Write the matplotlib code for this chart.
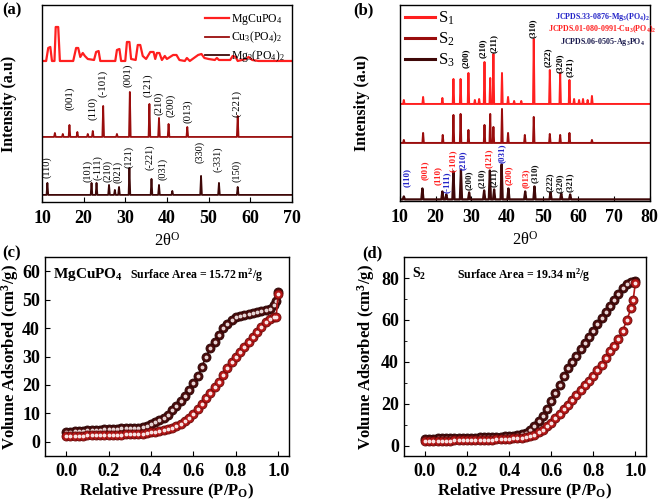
import matplotlib
matplotlib.use('Agg')
import matplotlib.pyplot as plt
from matplotlib.ticker import MultipleLocator

plt.rcParams['font.family'] = 'Liberation Serif'
plt.rcParams['mathtext.default'] = 'regular'

RED = '#ff1f1f'
MAROON = '#9a0d0d'
DARK = '#3f0808'
ADS = '#b51616'
DES = '#4a0c0c'

# ---------------- (a) XRD data (intensity in arbitrary units) ----------------
mgcu_x = [10, 11.0, 11.5, 12.0, 12.4, 13.0, 13.3, 13.9, 14.3, 17.5, 18.2, 18.7, 19.2, 19.8,
          20.3, 21.0, 22.5, 23.0, 23.6, 24.0, 27.6, 28.0, 28.6, 29.0, 30.0, 30.4, 31.0,
          31.4, 32.5, 33.0, 33.6, 34.2, 35.0, 36.0, 36.8, 37.2, 37.6, 38.2, 38.8, 39.5,
          40.0, 41.5, 42.3, 43.0, 44.3, 44.8, 45.5, 47.5, 48.3, 49.0, 50.0, 51.5, 52.0,
          52.5, 55.2, 55.8, 56.5, 57.0, 59.0, 59.6, 60.5, 62.0, 66.0, 70.0]
mgcu_y = [141, 141, 154, 155, 141, 141, 175, 175, 141, 141, 154, 154, 145, 149,
          146, 143, 142, 150, 151, 141, 141, 152, 153, 141, 141, 160, 160,
          143, 142, 157, 157, 146, 143, 150, 150, 143, 149, 149, 142, 146,
          143, 147, 147, 142, 141, 144, 141, 147, 148, 144, 143, 142, 144,
          142, 142, 146, 145, 141, 143, 145, 142, 141, 141, 141]

cu3_pos = [13.1, 15.0, 16.6, 18.5, 21.0, 22.2, 24.7, 28.0, 31.1, 35.8, 38.1, 40.4, 44.9, 57.0]
cu3_hgt = [4, 3, 12, 5, 3, 6, 31, 3, 45, 33, 19, 13, 10, 21]
cu3_base = 65

mg3_pos = [11.3, 21.9, 23.1, 26.1, 27.5, 28.5, 31.0, 36.3, 38.1, 41.3, 48.2, 52.5, 57.0]
mg3_hgt = [12, 12, 12, 10, 5, 8, 27, 16, 10, 4, 19, 12, 8]
mg3_base = 7

cu3_labels = ['(001)', '(110)', '(-101)', '(001)', '(121)', '(210)', '(200)', '(013)', '(-221)']
cu3_lab_x = [16.7, 22.2, 24.6, 30.6, 35.4, 38.1, 41.0, 45.0, 56.8]
cu3_lab_y = [92, 82, 105, 115, 105, 87, 85, 79, 85]

mg3_labels = ['(110)', '(101)', '(-111)', '(210)', '(021)', '(121)', '(-221)', '(031)',
              '(330)', '(-331)', '(150)']
mg3_lab_x = [11.2, 20.9, 23.4, 25.9, 28.3, 30.9, 35.9, 39.0, 47.9, 52.2, 56.8]
mg3_lab_y = [24, 20, 22, 20, 19, 34, 32, 22, 39, 30, 20]

# ---------------- (b) XRD data ----------------
s1_pos = [11.1, 16.5, 21.9, 25.0, 27.0, 29.2, 31.0, 32.2, 33.7, 35.3, 36.2, 38.6, 40.3,
          42.0, 44.0, 47.5, 52.0, 54.9, 57.5, 58.8, 60.2, 61.3, 62.6, 63.8]
s1_hgt = [4, 7, 6, 25, 25, 31, 4, 5, 42, 26, 50, 31, 7, 3, 3, 65, 34, 31, 24, 5, 4, 5, 4, 8]
s1_base = 97

s2_pos = [11.1, 16.5, 22.0, 25.0, 27.0, 29.2, 33.7, 35.3, 36.2, 38.6, 40.3, 45.0, 47.5,
          52.0, 54.9, 57.5, 63.8]
s2_hgt = [3, 10, 8, 28, 29, 13, 18, 29, 16, 34, 10, 8, 26, 9, 8, 10, 3]
s2_base = 58

s3_pos = [11.1, 16.3, 21.9, 23.0, 25.0, 27.1, 29.4, 33.6, 35.2, 36.4, 38.5, 40.4, 45.1,
          47.7, 52.2, 55.2, 57.7]
s3_hgt = [3, 11, 8, 5, 28, 30, 7, 9, 29, 10, 35, 11, 8, 13, 7, 6, 5]
s3_base = 1.5

s1_labels = ['(200)', '(210)', '(211)', '(310)', '(222)', '(320)', '(321)']
s1_lab_x = [28.5, 33.1, 36.2, 47.2, 51.4, 54.7, 57.7]
s1_lab_y = [133, 143, 148, 163, 134, 128, 124]

BLUE = '#2424c8'
LRED = '#ff2020'
BLK = '#111111'
s3_labels = ['(110)', '(001)', '(110)', '(-111)', '(-101)', '(210)', '(200)', '(210)', '(121)',
             '(211)', '(031)', '(200)', '(013)', '(310)', '(222)', '(320)', '(321)']
s3_lab_x = [11.8, 17.0, 20.5, 23.1, 24.9, 27.5, 29.4, 32.9, 35.0, 36.4, 38.5, 40.4, 45.3,
            47.7, 52.1, 54.7, 57.5]
s3_lab_y = [14, 21, 16, 8, 29, 31, 11, 13, 33, 14, 38, 16, 13, 18, 9, 8, 9]
s3_lab_c = [BLUE, LRED, LRED, BLUE, LRED, BLUE, BLK, BLK, LRED, BLK, BLUE, LRED, LRED,
            BLK, BLK, BLK, BLK]

# ---------------- (c), (d) BET isotherms ----------------
p_ads = [0.00, 0.02, 0.04, 0.06, 0.08, 0.10, 0.12, 0.14, 0.16, 0.18, 0.20, 0.22, 0.24,
         0.26, 0.28, 0.30, 0.32, 0.34, 0.36, 0.38, 0.40, 0.42, 0.44, 0.46, 0.48, 0.50,
         0.52, 0.54, 0.56, 0.58, 0.60, 0.62, 0.64, 0.66, 0.68, 0.70, 0.72, 0.74, 0.76,
         0.78, 0.80, 0.82, 0.84, 0.86, 0.88, 0.90, 0.92, 0.94, 0.96, 0.98, 0.99, 1.00]
p_des = [1.00, 0.99, 0.98, 0.96, 0.94, 0.92, 0.90, 0.88, 0.86, 0.84, 0.82, 0.80, 0.78,
         0.76, 0.74, 0.72, 0.70, 0.68, 0.66, 0.64, 0.62, 0.60, 0.58, 0.56, 0.54, 0.52,
         0.50, 0.48, 0.46, 0.44, 0.42, 0.40, 0.38, 0.36, 0.34, 0.32, 0.30, 0.28, 0.26,
         0.24, 0.22, 0.20, 0.18, 0.16, 0.14, 0.12, 0.10, 0.08, 0.06, 0.04, 0.02, 0.00]

c_ads = [1.9, 2.0, 2.1, 2.2, 2.2, 2.3, 2.3, 2.3, 2.4, 2.4, 2.4, 2.5, 2.5,
         2.5, 2.6, 2.6, 2.7, 2.8, 2.9, 3.1, 3.3, 3.5, 3.8, 4.1, 4.5, 5.0,
         5.6, 6.4, 7.3, 8.4, 9.8, 11.5, 13.4, 15.3, 17.2, 19.2, 21.2, 23.5, 25.8,
         28.0, 30.0, 31.7, 33.4, 35.2, 36.8, 38.5, 40.4, 42.1, 43.3, 43.8, 44.0, 52.0]
c_des = [52.7, 49.5, 48.3, 46.9, 46.4, 46.0, 45.7, 45.4, 45.1, 44.6, 44.3, 44.0, 43.0,
         41.6, 40.0, 37.5, 35.3, 33.0, 30.0, 26.5, 23.0, 20.7, 18.2, 16.2, 14.3, 12.6,
         11.2, 9.5, 8.5, 7.7, 6.9, 6.1, 5.4, 5.1, 5.0, 4.9, 4.8, 4.7, 4.7,
         4.6, 4.5, 4.5, 4.4, 4.3, 4.2, 4.1, 4.0, 3.9, 3.8, 3.7, 3.5, 3.3]

d_ads = [2.1, 2.2, 2.3, 2.3, 2.4, 2.4, 2.4, 2.5, 2.5, 2.5, 2.5, 2.6, 2.6,
         2.6, 2.7, 2.7, 2.8, 2.9, 3.0, 3.1, 3.2, 3.4, 3.5, 3.7, 4.0, 4.4,
         5.2, 6.3, 7.6, 9.2, 10.9, 13.0, 15.2, 17.5, 19.6, 21.8, 24.2, 26.6, 28.9,
         30.9, 33.4, 36.0, 38.6, 42.0, 45.2, 47.6, 51.0, 54.8, 60.0, 65.5, 69.5, 77.5]
d_des = [78.6, 78.3, 78.0, 77.2, 75.2, 72.4, 69.5, 66.6, 64.0, 61.0, 58.0, 54.8, 52.0,
         48.9, 45.9, 42.8, 40.0, 36.8, 33.0, 28.9, 25.0, 21.2, 17.5, 14.0, 11.6, 9.3,
         7.6, 6.1, 5.4, 5.0, 4.7, 4.5, 4.4, 4.3, 4.1, 4.0, 4.0, 3.9, 3.9,
         3.8, 3.8, 3.7, 3.7, 3.6, 3.6, 3.5, 3.5, 3.4, 3.4, 3.3, 3.3, 3.2]


def stick_trace(pos, hgt, base, lo, hi, w=0.2):
    # turn a list of peaks into a line profile on a flat baseline
    xs, ys = [lo], [base]
    for p, h in sorted(zip(pos, hgt)):
        xs += [p - w, p, p + w]
        ys += [base, base + h, base]
    xs.append(hi)
    ys.append(base)
    return xs, ys


def style_frame(ax):
    for s in ax.spines.values():
        s.set_linewidth(1.0)
    ax.tick_params(axis='both', which='both', direction='in', labelsize=13,
                   top=False, right=False)
    for lab in ax.get_xticklabels() + ax.get_yticklabels():
        lab.set_fontweight('bold')


fig = plt.figure(figsize=(6.61, 5.01), dpi=100)
ax_a = fig.add_axes([0.0635, 0.597, 0.378, 0.393])
ax_b = fig.add_axes([0.605, 0.599, 0.378, 0.391])
ax_c = fig.add_axes([0.068, 0.0898, 0.369, 0.397])
ax_d = fig.add_axes([0.611, 0.0898, 0.366, 0.397])

# ---- (a)
ax_a.plot(mgcu_x, mgcu_y, color=RED, lw=1.6, label='MgCuPO$_4$')
x, y = stick_trace(cu3_pos, cu3_hgt, cu3_base, 10, 70)
ax_a.plot(x, y, color=MAROON, lw=1.3, label='Cu$_3$(PO$_4$)$_2$')
x, y = stick_trace(mg3_pos, mg3_hgt, mg3_base, 10, 70)
ax_a.plot(x, y, color=DARK, lw=1.3, label='Mg$_3$(PO$_4$)$_2$')
for t, lx, ly in zip(cu3_labels, cu3_lab_x, cu3_lab_y):
    ax_a.text(lx, ly, t, rotation=90, ha='center', va='bottom', fontsize=7.8)
for t, lx, ly in zip(mg3_labels, mg3_lab_x, mg3_lab_y):
    ax_a.text(lx, ly, t, rotation=90, ha='center', va='bottom', fontsize=7.5)
ax_a.set_xlim(10, 70)
ax_a.set_ylim(0, 197)
ax_a.set_yticks([])
ax_a.xaxis.set_major_locator(MultipleLocator(10))
style_frame(ax_a)
ax_a.tick_params(axis='x', pad=6)
ax_a.set_xlabel(r'2θ$^O$', fontsize=12, labelpad=3)
ax_a.set_ylabel('Intensity (a.u)', fontsize=11.5, fontweight='bold')
ax_a.yaxis.set_label_coords(-0.1, 0.5)
ax_a.legend(loc='upper right', frameon=False, fontsize=8.5, handlelength=2.0,
            labelspacing=0.25, borderaxespad=0.2, handletextpad=0.2)

# ---- (b)
x, y = stick_trace(s1_pos, s1_hgt, s1_base, 10, 80)
ax_b.plot(x, y, color=RED, lw=1.4, label='S$_1$')
x, y = stick_trace(s2_pos, s2_hgt, s2_base, 10, 80)
ax_b.plot(x, y, color=MAROON, lw=1.4, label='S$_2$')
x, y = stick_trace(s3_pos, s3_hgt, s3_base, 10, 80, w=0.3)
ax_b.plot(x, y, color=DARK, lw=1.6, label='S$_3$')
for t, lx, ly in zip(s1_labels, s1_lab_x, s1_lab_y):
    ax_b.text(lx, ly, t, rotation=90, ha='center', va='bottom', fontsize=6.5,
              fontweight='bold')
for t, lx, ly, c in zip(s3_labels, s3_lab_x, s3_lab_y, s3_lab_c):
    ax_b.text(lx, ly, t, rotation=90, ha='center', va='bottom', fontsize=6.5,
              fontweight='bold', color=c)
ax_b.text(0.81, 0.94, 'JCPDS.33-0876-Mg$_3$(PO$_4$)$_2$', transform=ax_b.transAxes,
          ha='center', va='center', fontsize=5.8, fontweight='bold', color=BLUE)
ax_b.text(0.81, 0.875, 'JCPDS.01-080-0991-Cu$_3$(PO$_4$)$_2$', transform=ax_b.transAxes,
          ha='center', va='center', fontsize=5.8, fontweight='bold', color=LRED)
ax_b.text(0.81, 0.81, 'JCPDS.06-0505-Ag$_3$PO$_4$', transform=ax_b.transAxes,
          ha='center', va='center', fontsize=5.8, fontweight='bold', color='#1a1a4d')
ax_b.set_xlim(10, 80)
ax_b.set_ylim(0, 196)
ax_b.set_yticks([])
ax_b.xaxis.set_major_locator(MultipleLocator(10))
style_frame(ax_b)
ax_b.tick_params(axis='x', pad=6)
ax_b.set_xlabel(r'2θ$^O$', fontsize=12, labelpad=3)
ax_b.set_ylabel('Intensity (a.u)', fontsize=11.5, fontweight='bold')
ax_b.yaxis.set_label_coords(-0.12, 0.5)
ax_b.legend(loc='upper left', frameon=False, fontsize=12, handlelength=1.8,
            labelspacing=0.2, borderaxespad=0.1, handletextpad=0.2, borderpad=0.2)
for ln in ax_b.get_legend().get_lines():
    ln.set_linewidth(2.2)


# ---- (c), (d)
def isotherm(ax, ads, des):
    ax.plot(p_des, des, '-o', color=DES, mfc=DES, mec='#2a0505', ms=6.5, mew=0.6, lw=1.2)
    ax.plot(p_des, des, 'o', color='#f0e0e0', ms=1.8, alpha=0.9)
    ax.plot(p_ads, ads, '-o', color=ADS, mfc=ADS, mec='#6a0a0a', ms=6.5, mew=0.6, lw=1.2)
    ax.plot(p_ads, ads, 'o', color='#fff0f0', ms=1.8, alpha=0.9)
    ax.set_xlim(-0.1, 1.05)
    ax.xaxis.set_major_locator(MultipleLocator(0.2))
    ax.xaxis.set_major_formatter(plt.FormatStrFormatter('%.1f'))
    style_frame(ax)
    ax.tick_params(axis='x', pad=5)
    ax.set_xlabel('Relative Pressure (P/P$_O$)', fontsize=12, fontweight='bold',
                  labelpad=1)
    ax.set_ylabel('Volume Adsorbed (cm$^3$/g)', fontsize=12, fontweight='bold')


isotherm(ax_c, c_ads, c_des)
ax_c.set_ylim(-5, 65)
ax_c.yaxis.set_major_locator(MultipleLocator(10))
style_frame(ax_c)
ax_c.yaxis.set_label_coords(-0.1, 0.5)
ax_c.text(0.035, 0.955, 'MgCuPO$_4$', transform=ax_c.transAxes, ha='left', va='top',
          fontsize=11, fontweight='bold')
ax_c.text(0.35, 0.955, 'Surface Area = 15.72 m$^2$/g', transform=ax_c.transAxes,
          ha='left', va='top', fontsize=8.5, fontweight='bold')

isotherm(ax_d, d_ads, d_des)
ax_d.set_ylim(-5, 90)
ax_d.yaxis.set_major_locator(MultipleLocator(20))
ax_d.yaxis.set_minor_locator(MultipleLocator(10))
style_frame(ax_d)
ax_d.yaxis.set_label_coords(-0.11, 0.5)
ax_d.text(0.035, 0.955, 'S$_2$', transform=ax_d.transAxes, ha='left', va='top',
          fontsize=10, fontweight='bold')
ax_d.text(0.22, 0.955, 'Surface Area = 19.34 m$^2$/g', transform=ax_d.transAxes,
          ha='left', va='top', fontsize=8.5, fontweight='bold')

# panel letters
for lab, px, py in [('(a)', 0.003, 0.995), ('(b)', 0.535, 0.995),
                    ('(c)', 0.003, 0.51), ('(d)', 0.548, 0.51)]:
    fig.text(px, py, lab, ha='left', va='top', fontsize=12, fontweight='bold')

fig.savefig('out.png', dpi=100)
